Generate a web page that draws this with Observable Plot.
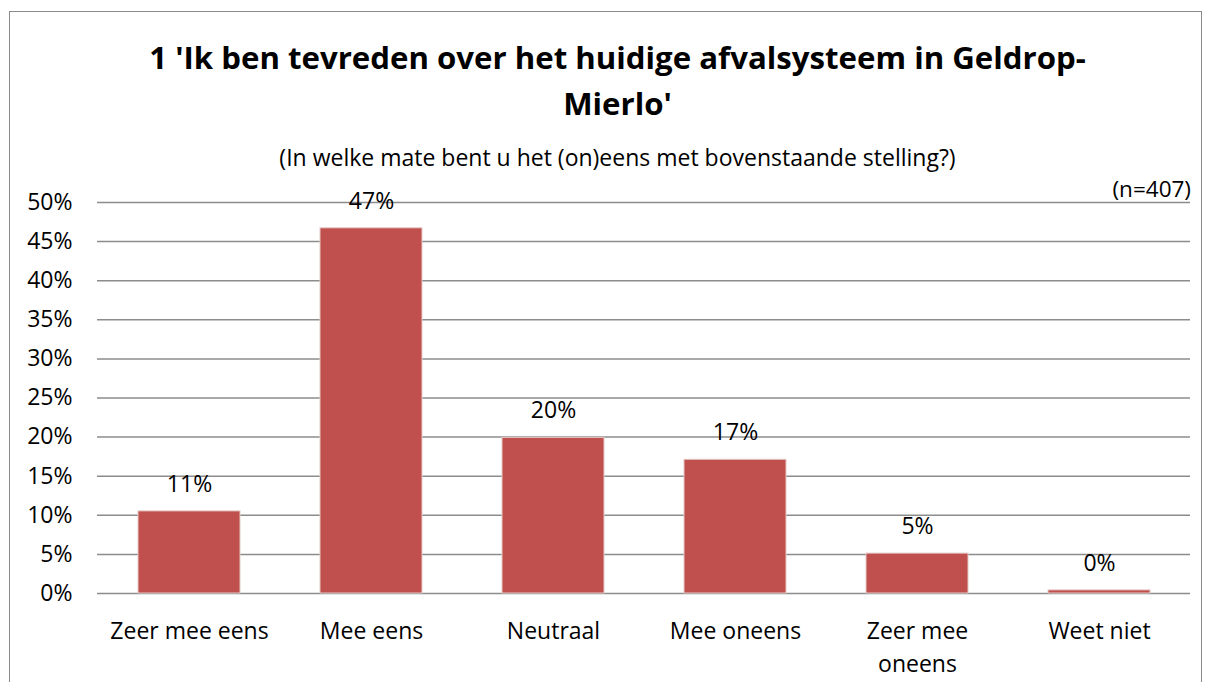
<!DOCTYPE html>
<html>
<head>
<meta charset="utf-8">
<script src="https://cdn.jsdelivr.net/npm/d3@7"></script>
<script src="https://cdn.jsdelivr.net/npm/@observablehq/plot@0.6"></script>
<style>
  html, body { margin: 0; padding: 0; background: #fff; }
  #wrap { position: relative; width: 1205px; height: 682px; overflow: hidden; font-family: "Open Sans", sans-serif; color: #000; }
  #frame { position: absolute; left: 9px; top: 11px; width: 1193px; height: 700px; border: 1.5px solid #8a8a8a; box-sizing: border-box; }
  #title { position: absolute; left: 15px; width: 1205px; top: 34px; text-align: center; font-weight: bold; font-size: 31.2px; line-height: 46px; }
  #title .l { display: block; }
  #subtitle { position: absolute; left: 15px; width: 1205px; top: 141px; text-align: center; font-size: 23px; line-height: 32px; }
  #n { position: absolute; right: 14px; top: 173px; font-size: 22.5px; line-height: 32px; }
  #chart { position: absolute; left: 0; top: 170px; }
</style>
</head>
<body>
<div id="wrap">
  <div id="frame"></div>
  <div id="title"><span class="l">1 'Ik ben tevreden over het huidige afvalsysteem in Geldrop-</span><span class="l">Mierlo'</span></div>
  <div id="subtitle">(In welke mate bent u het (on)eens met bovenstaande stelling?)</div>
  <div id="n">(n=407)</div>
  <div id="chart"></div>
</div>
<script>
const categories = ["Zeer mee eens", "Mee eens", "Neutraal", "Mee oneens", "Zeer mee oneens", "Weet niet"];
const values = [10.5, 46.7, 19.9, 17.1, 5.1, 0.4];
const valueLabels = ["11%", "47%", "20%", "17%", "5%", "0%"];
const tickLabels = {"Zeer mee oneens": "Zeer mee\noneens"};
const yTicks = [0, 5, 10, 15, 20, 25, 30, 35, 40, 45, 50];

const data = categories.map((c, i) => ({category: c, value: values[i], label: valueLabels[i]}));

const plot = Plot.plot({
  width: 1205,
  height: 512,
  marginTop: 32,
  marginBottom: 89,
  marginLeft: 97,
  marginRight: 15,
  style: {fontFamily: "'Open Sans', sans-serif", fontSize: "23px", color: "#000", background: "transparent", overflow: "visible"},
  x: {domain: categories, paddingInner: 0.44, paddingOuter: 0.22, label: null},
  y: {domain: [0, 50], label: null},
  marks: [
    Plot.ruleY(yTicks, {stroke: "#8c8c8c", strokeWidth: 1.5}),
    Plot.barY(data, {x: "category", y: "value", fill: "#C0504D", stroke: "#e6c9c8", strokeWidth: 1}),
    Plot.text(data, {x: "category", y: "value", text: "label", dy: -27, fontSize: 23, fill: "#000"}),
    Plot.axisY({ticks: yTicks, tickSize: 0, tickPadding: 25, tickFormat: d => d + "%", fontSize: 23, fill: "#000", label: null}),
    Plot.axisX({tickSize: 0, tickPadding: 23, fontSize: 23, lineHeight: 1.4, fill: "#000", lineAnchor: "top", tickFormat: d => tickLabels[d] ?? d, label: null})
  ]
});
document.getElementById("chart").appendChild(plot);
</script>
</body>
</html>
